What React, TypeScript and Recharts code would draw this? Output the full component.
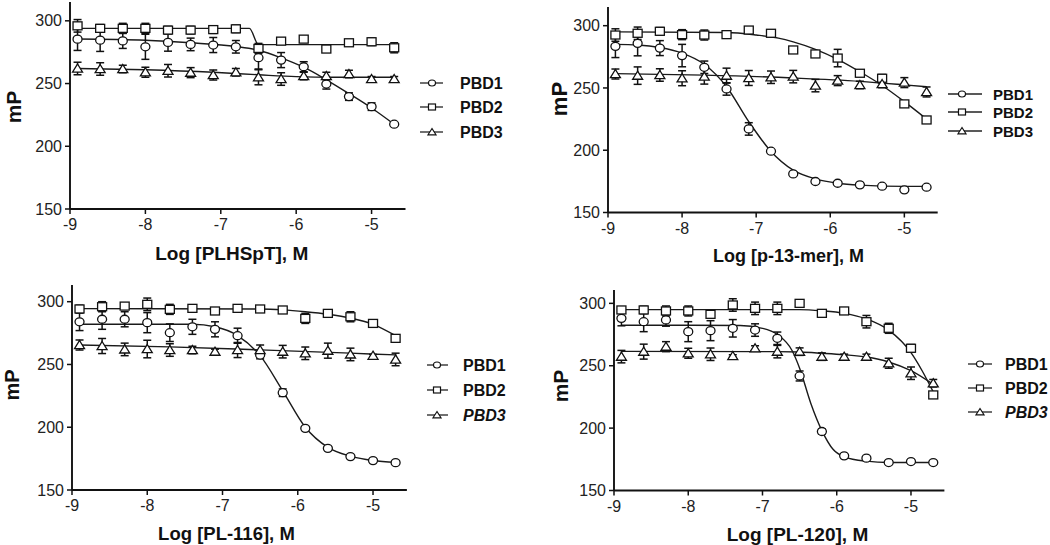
import React from 'react';
import { ComposedChart, Line, Scatter, XAxis, YAxis, ErrorBar } from 'recharts';

// ---------- shared data ----------
const doses = [-8.9, -8.6, -8.3, -8.0, -7.7, -7.4, -7.1, -6.8, -6.5, -6.2, -5.9, -5.6, -5.3, -5.0, -4.7];
const xTicks = [-9, -8, -7, -6, -5];
const yTicks = [150, 200, 250, 300];
const seriesNames = ['PBD1', 'PBD2', 'PBD3'];
const xTitles = ['Log [PLHSpT], M', 'Log [p-13-mer], M', 'Log [PL-116], M', 'Log [PL-120], M'];
const yTitle = 'mP';

type Pair = [number, number];

// ---------- Panel A: PLHSpT ----------
const aPBD1 = [285.4, 284.6, 284, 279.3, 282.8, 281.2, 280.7, 279.3, 270.6, 268.7, 263.4, 249.6, 239.6, 231.6, 217.6];
const aPBD1Err = [9, 9, 6, 10, 7, 5, 6, 5, 9, 6, 4, 4, 3, 3, 1];
const aPBD1Fit: Pair[] = [[-8.9, 285.5], [-8.0, 284.5], [-7.4, 282.5], [-6.8, 279.5], [-6.5, 276.5], [-6.2, 270.5], [-5.9, 263], [-5.6, 253], [-5.3, 242], [-5.0, 230.5], [-4.7, 217.5]];
const aPBD2 = [296, 294, 294, 294, 292.6, 292.6, 293, 293.6, 278, 283.8, 285.4, 277.5, 282.5, 283.3, 278.5];
const aPBD2Err = [5, 3, 4, 4, 3, 3, 3, 3, 4, 2, 1, 1, 1, 3, 4];
const aPBD2Fit: Pair[] = [[-8.9, 294], [-6.62, 294], [-6.5, 281], [-4.7, 281]];
const aPBD3 = [262, 261.6, 261.6, 259, 260.2, 258.7, 256.8, 259, 255, 253.6, 256, 256, 257.6, 253.6, 253.6];
const aPBD3Err = [5, 5, 3, 4, 5, 4, 4, 3, 6, 5, 3, 3, 3, 2, 2];
const aPBD3Fit: Pair[] = [[-8.9, 262], [-8.0, 261], [-7.1, 259], [-6.5, 257], [-6.0, 255.5], [-5.5, 255], [-4.7, 255]];

// ---------- Panel B: p-13-mer ----------
const bPBD1 = [283.4, 285.8, 282, 276, 266.6, 249.2, 217.1, 199.2, 181, 174.9, 173.5, 172.2, 171.1, 168.2, 170.3];
const bPBD1Err = [9, 10, 6, 9, 5, 5, 5, 1, 1, 1, 1, 1, 1, 1, 1];
const bPBD1Fit: Pair[] = [[-8.9, 285], [-8.6, 284.5], [-8.3, 282.5], [-8.0, 278], [-7.7, 269], [-7.4, 251], [-7.1, 223], [-6.8, 199], [-6.5, 184], [-6.2, 177], [-5.9, 173.5], [-5.6, 172], [-5.0, 171], [-4.7, 171]];
const bPBD2 = [292.5, 293.9, 295.5, 292.8, 292.5, 292.8, 296.5, 293.9, 280.5, 277.3, 274, 261.8, 257.8, 237.2, 224.3];
const bPBD2Err = [5, 5, 3, 4, 4, 2, 2, 2, 1, 2, 7, 2, 3, 1, 1];
const bPBD2Fit: Pair[] = [[-8.9, 295], [-7.4, 294.5], [-7.0, 292.5], [-6.7, 290], [-6.5, 287], [-6.2, 281], [-5.9, 273], [-5.6, 263], [-5.3, 252], [-5.0, 239], [-4.7, 225]];
const bPBD3 = [261.2, 259.9, 260.4, 257.8, 259.1, 259.9, 258, 258.6, 259.1, 251.9, 255.9, 252.4, 253.2, 254.3, 246.8];
const bPBD3Err = [4, 7, 5, 6, 6, 6, 6, 5, 5, 5, 4, 3, 3, 4, 4];
const bPBD3Fit: Pair[] = [[-8.9, 261.5], [-7.7, 260.3], [-6.5, 258], [-5.6, 255.3], [-5.0, 252.5], [-4.7, 251]];

// ---------- Panel C: PL-116 ----------
const cPBD1 = [284, 286, 286, 283.3, 275.3, 280, 278, 272.9, 257.5, 227.5, 199.1, 183.2, 176.6, 173.4, 171.8];
const cPBD1Err = [7, 8, 6, 8, 7, 6, 6, 6, 3, 3, 1, 1, 1, 1, 1];
const cPBD1Fit: Pair[] = [[-8.9, 282], [-7.4, 282], [-7.1, 280], [-6.8, 273], [-6.5, 257], [-6.2, 229], [-5.9, 200], [-5.6, 184], [-5.3, 177], [-5.0, 173.5], [-4.7, 172]];
const cPBD2 = [294.2, 296, 296.5, 297.9, 293.9, 294.7, 292.6, 294.7, 294.2, 293.4, 286.7, 290.7, 288, 282.7, 270.8];
const cPBD2Err = [3, 4, 2, 5, 4, 1, 2, 2, 1, 1, 4, 2, 4, 2, 2];
const cPBD2Fit: Pair[] = [[-8.9, 294.5], [-6.5, 294.2], [-6.2, 293.5], [-5.9, 292], [-5.6, 290], [-5.3, 287], [-5.0, 282], [-4.7, 273]];
const cPBD3 = [265.5, 264.7, 262, 262.3, 261.5, 261.5, 260.2, 261.5, 261.5, 260.2, 258.9, 261, 258, 257, 254];
const cPBD3Err = [4, 6, 5, 7, 5, 3, 2, 6, 4, 5, 5, 6, 5, 1, 5];
const cPBD3Fit: Pair[] = [[-8.9, 265.5], [-7.7, 264], [-6.5, 261.6], [-5.3, 259], [-4.7, 257.6]];

// ---------- Panel D: PL-120 ----------
const dPBD1 = [288, 285.3, 286.7, 277.3, 278.1, 280, 278.6, 272, 241.8, 197.3, 177.8, 175.9, 172.4, 173.2, 172.4];
const dPBD1Err = [6, 8, 5, 8, 8, 7, 5, 5, 4, 2, 1, 1, 1, 1, 1];
const dPBD1Fit: Pair[] = [[-8.9, 282.5], [-7.3, 282.3], [-7.0, 280], [-6.8, 275], [-6.6, 262], [-6.5, 248], [-6.35, 220], [-6.2, 198], [-6.05, 183], [-5.9, 177], [-5.6, 173.5], [-5.3, 172.5], [-4.7, 172.5]];
const dPBD2 = [294.7, 294.7, 293.9, 293.9, 291.2, 298.7, 296, 296, 300, 292, 293.9, 285.3, 280, 264, 226.6];
const dPBD2Err = [2, 3, 4, 4, 1, 5, 5, 5, 2, 1, 2, 5, 4, 3, 1];
const dPBD2Fit: Pair[] = [[-8.9, 295], [-6.5, 295], [-6.2, 294], [-5.9, 292], [-5.6, 287.5], [-5.3, 278.5], [-5.0, 260.5], [-4.85, 246], [-4.7, 229]];
const dPBD3 = [257.3, 261.3, 265.3, 260, 259.2, 257.8, 264, 261.3, 261.3, 257.3, 257.3, 257.3, 252, 244, 236];
const dPBD3Err = [5, 6, 4, 4, 5, 1, 2, 5, 3, 3, 2, 2, 4, 5, 3];
const dPBD3Fit: Pair[] = [[-8.9, 261.5], [-6.8, 261.3], [-6.5, 261], [-6.2, 260], [-5.9, 258.8], [-5.6, 257], [-5.3, 253], [-5.0, 246], [-4.7, 235]];

// ---------- helpers ----------
const FONT = '"Liberation Sans", Arial, Helvetica, sans-serif';
const kinds = ['circle', 'square', 'triangle'] as const;
type Kind = typeof kinds[number];

const toPoints = (vals: number[], errs: number[]) => doses.map((x, i) => ({ x, y: vals[i], err: errs[i] }));
const toCurve = (pairs: Pair[]) => pairs.map(([x, y]) => ({ x, y }));

function Marker({ kind, cx, cy, s, sw = 1.3 }: { kind: Kind; cx: number; cy: number; s: number; sw?: number }) {
  const common = { fill: '#fff', stroke: '#111', strokeWidth: sw };
  if (kind === 'circle') return <ellipse cx={cx} cy={cy} rx={s / 2} ry={s / 2 - 0.5} {...common} />;
  if (kind === 'square') return <rect x={cx - s / 2} y={cy - s / 2 + 0.5} width={s} height={s - 1} {...common} />;
  return (
    <polygon
      points={`${cx},${cy - s / 2} ${cx + s / 2 + 0.5},${cy + s * 0.4} ${cx - s / 2 - 0.5},${cy + s * 0.4}`}
      {...common}
    />
  );
}

type PanelCfg = {
  title: string;
  plotLeft: number;
  plotTop: number;
  plotW: number;
  plotH: number;
  yMax: number;
  series: { vals: number[]; errs: number[]; fit: Pair[] }[];
  xTitleDx: number;
  xTitleDy: number;
  xTitleSize: number;
  mpX: number;
  mpY: number;
  mpSize: number;
  legend: { x1: number; x2: number; mx: number; tx: number; rows: number[]; size: number; italic3: boolean };
};

const panels: PanelCfg[] = [
  {
    title: xTitles[0], plotLeft: 70, plotTop: 2, plotW: 335.5, plotH: 207, yMax: 315,
    series: [
      { vals: aPBD1, errs: aPBD1Err, fit: aPBD1Fit },
      { vals: aPBD2, errs: aPBD2Err, fit: aPBD2Fit },
      { vals: aPBD3, errs: aPBD3Err, fit: aPBD3Fit },
    ],
    xTitleDx: -6, xTitleDy: 51, xTitleSize: 19, mpX: 13, mpY: 107, mpSize: 21,
    legend: { x1: 420, x2: 443, mx: 432, tx: 460, rows: [83, 107, 132], size: 16, italic3: false },
  },
  {
    title: xTitles[1], plotLeft: 607.7, plotTop: 6.5, plotW: 329.7, plotH: 205.5, yMax: 315,
    series: [
      { vals: bPBD1, errs: bPBD1Err, fit: bPBD1Fit },
      { vals: bPBD2, errs: bPBD2Err, fit: bPBD2Fit },
      { vals: bPBD3, errs: bPBD3Err, fit: bPBD3Fit },
    ],
    xTitleDx: 16, xTitleDy: 50, xTitleSize: 18, mpX: 559, mpY: 99, mpSize: 22,
    legend: { x1: 948, x2: 982, mx: 962, tx: 993, rows: [94, 112, 131], size: 15, italic3: false },
  },
  {
    title: xTitles[2], plotLeft: 72, plotTop: 285, plotW: 334.9, plotH: 205, yMax: 313.3,
    series: [
      { vals: cPBD1, errs: cPBD1Err, fit: cPBD1Fit },
      { vals: cPBD2, errs: cPBD2Err, fit: cPBD2Fit },
      { vals: cPBD3, errs: cPBD3Err, fit: cPBD3Fit },
    ],
    xTitleDx: -13, xTitleDy: 50, xTitleSize: 18.5, mpX: 12, mpY: 385, mpSize: 20,
    legend: { x1: 427, x2: 448, mx: 437, tx: 463, rows: [365, 390, 415], size: 16, italic3: true },
  },
  {
    title: xTitles[3], plotLeft: 614.3, plotTop: 290, plotW: 330.4, plotH: 200.5, yMax: 310.7,
    series: [
      { vals: dPBD1, errs: dPBD1Err, fit: dPBD1Fit },
      { vals: dPBD2, errs: dPBD2Err, fit: dPBD2Fit },
      { vals: dPBD3, errs: dPBD3Err, fit: dPBD3Fit },
    ],
    xTitleDx: 18, xTitleDy: 50, xTitleSize: 19, mpX: 560, mpY: 386, mpSize: 21,
    legend: { x1: 968, x2: 992, mx: 980, tx: 1005, rows: [364, 388, 412], size: 16, italic3: true },
  },
];

const ML = 80;
const MT = 10;
const MR = 8;
const XH = 64;

function Panel({ cfg }: { cfg: PanelCfg }) {
  const axisLine = { stroke: '#111', strokeWidth: 1.9 };
  const tickLine = { stroke: '#111', strokeWidth: 1.5 };
  const tick = { fill: '#222', fontSize: 16, fontFamily: FONT };
  return (
    <div style={{ position: 'absolute', left: cfg.plotLeft - ML, top: cfg.plotTop - MT }}>
      <ComposedChart
        width={ML + cfg.plotW + MR}
        height={MT + cfg.plotH + XH}
        margin={{ top: MT, right: MR, bottom: 0, left: 0 }}
      >
        <XAxis
          type="number"
          dataKey="x"
          domain={[-9, -4.55]}
          ticks={xTicks}
          allowDataOverflow
          height={XH}
          axisLine={axisLine}
          tickLine={tickLine}
          tickSize={5}
          tickMargin={5}
          tick={tick}
        />
        <YAxis
          type="number"
          domain={[150, cfg.yMax]}
          ticks={yTicks}
          allowDataOverflow
          width={ML}
          axisLine={axisLine}
          tickLine={tickLine}
          tickSize={5}
          tickMargin={3}
          tick={tick}
        />
        {cfg.series.map((s, i) => (
          <Line
            key={'fit' + i}
            data={toCurve(s.fit)}
            dataKey="y"
            type="monotone"
            stroke="#1a1a1a"
            strokeWidth={1.4}
            dot={false}
            activeDot={false}
            isAnimationActive={false}
            legendType="none"
          />
        ))}
        {cfg.series.map((s, i) => (
          <Scatter
            key={'pts' + i}
            name={seriesNames[i]}
            data={toPoints(s.vals, s.errs)}
            dataKey="y"
            isAnimationActive={false}
            shape={(p: any) => <Marker kind={kinds[i]} cx={p.cx} cy={p.cy} s={9} />}
          >
            <ErrorBar dataKey="err" direction="y" width={4} stroke="#111" strokeWidth={1.5} />
          </Scatter>
        ))}
      </ComposedChart>
    </div>
  );
}

function Overlay() {
  return (
    <svg
      width={1050}
      height={545}
      style={{ position: 'absolute', left: 0, top: 0, pointerEvents: 'none' }}
    >
      {panels.map((cfg, pi) => (
        <g key={pi}>
          <text
            x={cfg.plotLeft + cfg.plotW / 2 + cfg.xTitleDx}
            y={cfg.plotTop + cfg.plotH + cfg.xTitleDy}
            textAnchor="middle"
            fontFamily={FONT}
            fontWeight="bold"
            fontSize={cfg.xTitleSize}
            fill="#111"
          >
            {cfg.title}
          </text>
          <text
            x={cfg.mpX}
            y={cfg.mpY}
            transform={`rotate(-90 ${cfg.mpX} ${cfg.mpY})`}
            textAnchor="middle"
            dominantBaseline="central"
            fontFamily={FONT}
            fontWeight="bold"
            fontSize={cfg.mpSize}
            fill="#111"
          >
            {yTitle}
          </text>
          {seriesNames.map((name, si) => {
            const y = cfg.legend.rows[si];
            return (
              <g key={name}>
                <line x1={cfg.legend.x1} x2={cfg.legend.x2} y1={y} y2={y} stroke="#222" strokeWidth={1.3} />
                <Marker kind={kinds[si]} cx={cfg.legend.mx} cy={y} s={7} sw={1.2} />
                <text
                  x={cfg.legend.tx}
                  y={y}
                  dominantBaseline="central"
                  fontFamily={FONT}
                  fontWeight="bold"
                  fontStyle={cfg.legend.italic3 && si === 2 ? 'italic' : 'normal'}
                  fontSize={cfg.legend.size}
                  fill="#111"
                >
                  {name}
                </text>
              </g>
            );
          })}
        </g>
      ))}
    </svg>
  );
}

export default function App() {
  return (
    <div style={{ position: 'absolute', left: 0, top: 0, width: 1050, height: 545, background: '#fff', overflow: 'hidden' }}>
      {panels.map((cfg, i) => (
        <Panel key={i} cfg={cfg} />
      ))}
      <Overlay />
    </div>
  );
}
